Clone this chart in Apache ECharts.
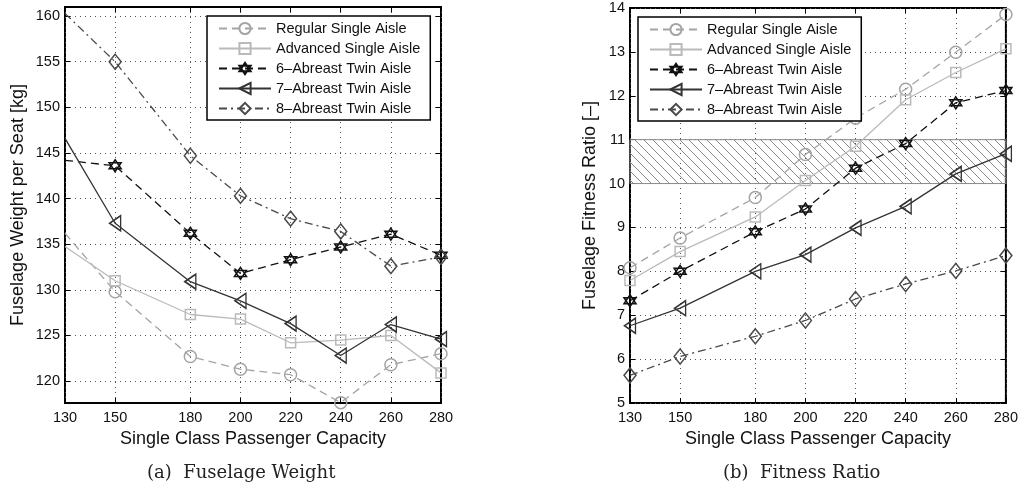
<!DOCTYPE html>
<html>
<head>
<meta charset="utf-8">
<script src="https://cdn.jsdelivr.net/npm/echarts@6/dist/echarts.min.js"></script>
<style>
  html, body { margin: 0; padding: 0; background: #fff; }
  #chart { width: 1021px; height: 490px; }
</style>
</head>
<body>
<div id="chart"></div>
<script>
// Passenger capacities (x) shared by both panels
const capacity = [130, 150, 180, 200, 220, 240, 260, 280];
const xTicks = [130, 150, 180, 200, 220, 240, 260, 280];

const seriesNames = [
  'Regular Single Aisle',
  'Advanced Single Aisle',
  '6\u2013Abreast Twin Aisle',
  '7\u2013Abreast Twin Aisle',
  '8\u2013Abreast Twin Aisle'
];

// (a) Fuselage weight per seat [kg]
const weightRegular  = [136.2, 129.8, 122.7, 121.3, 120.7, 117.64, 121.8, 123.0];
const weightAdvanced = [134.75, 131.0, 127.3, 126.8, 124.2, 124.5, 125.0, 120.9];
const weight6Abreast = [144.2, 143.6, 136.2, 131.8, 133.3, 134.7, 136.1, 133.8];
const weight7Abreast = [146.6, 137.3, 130.9, 128.8, 126.3, 122.8, 126.2, 124.6];
const weight8Abreast = [160.3, 155.0, 144.7, 140.3, 137.8, 136.4, 132.6, 133.6];
const weightTicks = [120, 125, 130, 135, 140, 145, 150, 155, 160];

// (b) Fuselage fitness ratio [-]
const fitRegular  = [8.08, 8.76, 9.68, 10.66, 11.49, 12.15, 12.99, 13.85];
const fitAdvanced = [7.79, 8.45, 9.24, 10.07, 10.85, 11.91, 12.53, 13.07];
const fit6Abreast = [7.33, 8.00, 8.90, 9.42, 10.35, 10.91, 11.84, 12.12];
const fit7Abreast = [6.76, 7.16, 8.00, 8.38, 8.99, 9.48, 10.22, 10.68];
const fit8Abreast = [5.63, 6.06, 6.52, 6.88, 7.37, 7.71, 8.01, 8.36];
const fitnessBand = [10, 11];

const SANS = 'Liberation Sans, Arial, Helvetica, sans-serif';

// Marker outlines (unfilled, line passes through)
const SYM_STAR = 'path://M0,-10L8.66,5L-8.66,5Z M0,10L-8.66,-5L8.66,-5Z';
const SYM_TRI_LEFT = 'path://M-10,0L10,-11L10,11Z';
const SYM_DIAMOND = 'path://M0,-10L8,0L0,10L-8,0Z';

const styles = [
  { color: '#a4a4a4', type: [8, 5],       symbol: 'circle',     size: 12 },
  { color: '#bababa', type: 'solid',      symbol: 'rect',       size: 10 },
  { color: '#111111', type: [8, 5],       symbol: SYM_STAR,     size: 12 },
  { color: '#333333', type: 'solid',      symbol: SYM_TRI_LEFT, size: [11, 15] },
  { color: '#4a4a4a', type: [8, 4, 2, 4], symbol: SYM_DIAMOND,  size: [12, 15] }
];

// Diagonal hatch used for the target fitness band
function hatchPattern() {
  const s = 9;
  const c = document.createElement('canvas');
  c.width = s; c.height = s;
  const g = c.getContext('2d');
  g.strokeStyle = '#8a8a8a';
  g.lineWidth = 1;
  g.beginPath();
  g.moveTo(-1, -1); g.lineTo(s + 1, s + 1);
  g.moveTo(-1, s - 1); g.lineTo(1, s + 1);
  g.moveTo(s - 1, -1); g.lineTo(s + 1, 1);
  g.stroke();
  return c;
}

function makeSeries(values, i, xIdx, yIdx, hideFirstMarker) {
  const st = styles[i];
  return {
    name: seriesNames[i],
    type: 'line',
    xAxisIndex: xIdx,
    yAxisIndex: yIdx,
    data: values.map((v, k) => {
      const item = { value: [capacity[k], v] };
      if (hideFirstMarker && k === 0) item.symbol = 'none';
      return item;
    }),
    symbol: st.symbol,
    symbolSize: st.size,
    showSymbol: true,
    animation: false,
    z: 3 + i,
    lineStyle: { color: st.color, width: 1.3, type: st.type },
    itemStyle: { color: 'rgba(0,0,0,0)', borderColor: st.color, borderWidth: 1.5 },
    emphasis: { disabled: true }
  };
}

function mainX(gridIndex, name) {
  return {
    type: 'value', gridIndex, min: 130, max: 280,
    name, nameLocation: 'middle', nameGap: 27,
    nameTextStyle: { fontFamily: SANS, fontSize: 18, color: '#111' },
    axisLine: { show: false },
    axisTick: { show: true, inside: true, length: 5, customValues: xTicks, lineStyle: { color: '#000' } },
    axisLabel: { customValues: xTicks, fontFamily: SANS, fontSize: 14.5, color: '#111', margin: 7 },
    splitLine: { show: true, lineStyle: { color: '#555', width: 1, type: [1, 4] } }
  };
}
function topX(gridIndex) {
  return {
    type: 'value', gridIndex, min: 130, max: 280, position: 'top',
    axisLine: { show: false },
    axisTick: { show: true, inside: true, length: 5, customValues: xTicks, lineStyle: { color: '#000' } },
    axisLabel: { show: false, customValues: xTicks },
    splitLine: { show: false }
  };
}
function sideY(gridIndex, extra) {
  return Object.assign({
    type: 'value', gridIndex, position: 'right',
    axisLine: { show: false },
    axisTick: { show: true, inside: true, length: 5, lineStyle: { color: '#000' } },
    axisLabel: { show: false },
    splitLine: { show: false }
  }, extra);
}

const option = {
  animation: false,
  backgroundColor: '#fff',
  grid: [
    { left: 65, top: 7, width: 376, height: 396, show: true, borderColor: '#000', borderWidth: 2, backgroundColor: 'transparent' },
    { left: 630, top: 8, width: 376, height: 395, show: true, borderColor: '#000', borderWidth: 2, backgroundColor: 'transparent' }
  ],
  xAxis: [
    mainX(0, 'Single Class Passenger Capacity'),
    topX(0),
    mainX(1, 'Single Class Passenger Capacity'),
    topX(1)
  ],
  yAxis: [
    {
      type: 'value', gridIndex: 0, min: 117.6, max: 161,
      name: 'Fuselage Weight per Seat [kg]', nameLocation: 'middle', nameGap: 38,
      nameTextStyle: { fontFamily: SANS, fontSize: 18, color: '#111' },
      axisLine: { show: false },
      axisTick: { show: true, inside: true, length: 5, customValues: weightTicks, lineStyle: { color: '#000' } },
      axisLabel: { customValues: weightTicks, fontFamily: SANS, fontSize: 14.5, color: '#111', margin: 5 },
      splitLine: { show: true, lineStyle: { color: '#555', width: 1, type: [1, 4] } }
    },
    sideY(0, {
      min: 117.6, max: 161,
      axisTick: { show: true, inside: true, length: 5, customValues: weightTicks, lineStyle: { color: '#000' } },
      axisLabel: { show: false, customValues: weightTicks }
    }),
    {
      type: 'value', gridIndex: 1, min: 5, max: 14, interval: 1,
      name: 'Fuselage Fitness Ratio [\u2013]', nameLocation: 'middle', nameGap: 31,
      nameTextStyle: { fontFamily: SANS, fontSize: 18, color: '#111' },
      axisLine: { show: false },
      axisTick: { show: true, inside: true, length: 5, lineStyle: { color: '#000' } },
      axisLabel: { fontFamily: SANS, fontSize: 14.5, color: '#111', margin: 5 },
      splitLine: { show: true, lineStyle: { color: '#555', width: 1, type: [1, 4] } }
    },
    sideY(1, { min: 5, max: 14, interval: 1 })
  ],
  legend: [
    {
      data: seriesNames, orient: 'vertical', left: 207, top: 16,
      itemWidth: 52, itemHeight: 14, itemGap: 5,
      padding: [5, 10, 4, 11],
      borderColor: '#000', borderWidth: 1.5, backgroundColor: '#fff',
      selectedMode: false,
      textStyle: { fontFamily: SANS, fontSize: 14.5, color: '#111' }
    },
    {
      data: seriesNames, orient: 'vertical', left: 638, top: 17,
      itemWidth: 52, itemHeight: 14, itemGap: 5,
      padding: [5, 10, 4, 11],
      borderColor: '#000', borderWidth: 1.5, backgroundColor: '#fff',
      selectedMode: false,
      textStyle: { fontFamily: SANS, fontSize: 14.5, color: '#111' }
    }
  ],
  graphic: [
    { type: 'text', left: 147, top: 464, style: { text: '(a)  Fuselage Weight', font: '18px "DejaVu Serif", serif', fill: '#222' } },
    { type: 'text', left: 723, top: 464, style: { text: '(b)  Fitness Ratio', font: '18px "DejaVu Serif", serif', fill: '#222' } }
  ],
  series: [
    makeSeries(weightRegular, 0, 0, 0, true),
    makeSeries(weightAdvanced, 1, 0, 0, true),
    makeSeries(weight6Abreast, 2, 0, 0, true),
    makeSeries(weight7Abreast, 3, 0, 0, true),
    makeSeries(weight8Abreast, 4, 0, 0, true),
    {
      name: 'band', type: 'line', xAxisIndex: 2, yAxisIndex: 2, data: [], z: 1,
      animation: false, silent: true,
      markArea: {
        silent: true,
        itemStyle: { color: { image: hatchPattern(), repeat: 'repeat' }, borderColor: '#8a8a8a', borderWidth: 1 },
        data: [[{ xAxis: 130, yAxis: fitnessBand[0] }, { xAxis: 280, yAxis: fitnessBand[1] }]]
      }
    },
    makeSeries(fitRegular, 0, 2, 2, false),
    makeSeries(fitAdvanced, 1, 2, 2, false),
    makeSeries(fit6Abreast, 2, 2, 2, false),
    makeSeries(fit7Abreast, 3, 2, 2, false),
    makeSeries(fit8Abreast, 4, 2, 2, false)
  ]
};

const chart = echarts.init(document.getElementById('chart'), null, { renderer: 'canvas' });
chart.setOption(option);
</script>
</body>
</html>
